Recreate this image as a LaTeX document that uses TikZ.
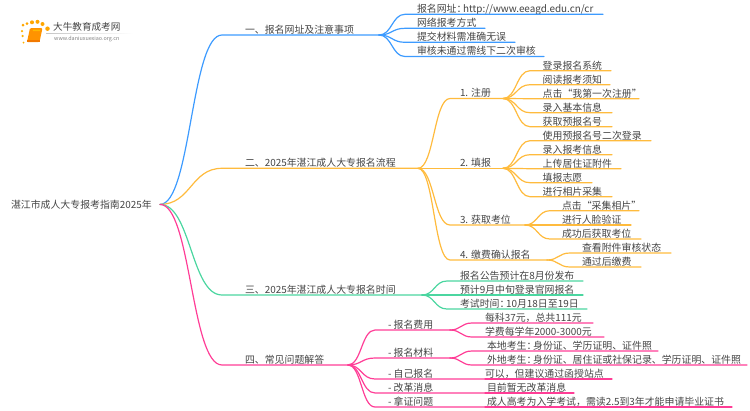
\documentclass[tikz,border=0pt]{standalone}
\usepackage{fontspec}
\setmainfont{Noto Sans CJK SC}
\definecolor{cblue}{HTML}{3D9BFF}
\definecolor{corange}{HTML}{FFBB3D}
\definecolor{cgreen}{HTML}{4BD6A0}
\definecolor{cpink}{HTML}{FF3D96}
\definecolor{ctext}{HTML}{444444}
\tikzset{
  mmtext/.style={inner sep=0pt,outer sep=0pt,text height=10pt,text depth=1.6pt,anchor=south west,text=ctext,font=\fontsize{9.9}{12}\selectfont},
  mmline/.style={line width=1.2pt,line cap=round},
  logodot/.style={fill=#1,draw=none,circle,inner sep=0pt,outer sep=0pt},
}
\newcommand{\mmcolon}{：\kern-3.4pt}
% name, x-start, x-text, x-end, y (of the line), text
\newcommand{\mmseg}[6]{\node[mmtext] (#1) at (#2,#5) {\makebox[\dimexpr #4pt-#2pt\relax][l]{\hspace{\dimexpr #3pt-#2pt\relax}#6}};}
% colour, from (anchor incl.), to, control offset
\newcommand{\mmconn}[4]{\draw[mmline,#1] (#2) .. controls +(#4,0) and +(-#4,0) .. (#3.south west) -- (#3.south east);}
\begin{document}
\begin{tikzpicture}[x=1pt,y=-1pt]
\useasboundingbox (0,0) rectangle (750,410);
% ---- logo
\node[logodot=orange!70!yellow,minimum size=3pt] (d1) at (23,25) {};
\node[logodot=orange!70!yellow,minimum size=3pt] (d2) at (27,23.5) {};
\node[logodot=orange!70!yellow,minimum size=4pt] (d3) at (32,22.3) {};
\node[logodot=orange!70!yellow,minimum size=4pt] (d4) at (37.5,21.8) {};
\node[logodot=orange!70!yellow,minimum size=4pt] (d5) at (42.5,24) {};
\node[logodot=orange!70!yellow,minimum size=4.5pt] (d6) at (47.5,28.7) {};
\node[logodot=orange!60!yellow,minimum size=2.5pt] (d7) at (22,31) {};
\node[logodot=orange!60!yellow,minimum size=2.5pt] (d8) at (22.7,36) {};
\node[logodot=orange!60!yellow,minimum size=2pt] (d9) at (23.5,42.5) {};
\fill[orange!85!yellow,rounded corners=1.2pt] (30,28) -- (42.5,28) -- (39.5,42) -- (27,42) -- cycle;
\fill[orange!55!yellow] (33,29.5) -- (40.5,29.5) -- (40,31) -- (32.7,31) -- cycle;
\fill[orange!95!black] (27,40) -- (39.5,40) -- (39.5,42) -- (27,42) -- cycle;
\shade[left color=gray!45,right color=white] (46,33) rectangle (133,33.6);
\node[inner sep=0pt,text=ctext,anchor=west,font=\fontsize{9.6}{11}\selectfont] (logot) at (53,27) {大牛教育成考网};
\node[inner sep=0pt,text=gray,anchor=west,font=\fontsize{5.4}{7}\selectfont] (logou) at (54,38.7) {www.daniuxuexiao.org.cn};
% ---- root
\node[inner sep=0pt,outer sep=0pt,anchor=west,text=ctext,font=\fontsize{9.9}{12}\selectfont] (root) at (11,204.4) {\makebox[149pt][l]{湛江市成人大专报考指南2025年}};
% ---- level 1
\mmseg{a}{222}{245}{379}{35}{一、报名网址及注意事项}
\mmseg{b}{222}{245}{418}{168.3}{二、2025年湛江成人大专报名流程}
\mmseg{c}{222}{245}{422}{295}{三、2025年湛江成人大专报名时间}
\mmseg{d}{222}{245}{348}{365}{四、常见问题解答}
% ---- section 1
\mmseg{a1}{405}{417}{603}{14.3}{报名网址\mmcolon http://www.eeagd.edu.cn/cr}
\mmseg{a2}{405}{417}{485}{28.3}{网络报考方式}
\mmseg{a3}{405}{417}{515}{42.3}{提交材料需准确无误}
\mmseg{a4}{405}{417}{544}{56.5}{审核未通过需线下二次审核}
% ---- section 2
\mmseg{b1}{450}{460}{503}{98.5}{1. 注册}
\mmseg{b2}{450}{460}{503}{168.3}{2. 填报}
\mmseg{b3}{450}{460}{525}{225}{3. 获取考位}
\mmseg{b4}{450}{460}{547}{260}{4. 缴费确认报名}
\mmseg{b11}{530}{542.7}{611}{70.7}{登录报名系统}
\mmseg{b12}{530}{542.7}{610}{84.7}{阅读报考须知}
\mmseg{b13}{530}{542.7}{639}{98.7}{点击“我第一次注册”}
\mmseg{b14}{530}{542.7}{612}{112.7}{录入基本信息}
\mmseg{b15}{530}{542.7}{612}{126.7}{获取预报名号}
\mmseg{b21}{530}{542.7}{651}{140.7}{使用预报名号二次登录}
\mmseg{b22}{530}{542.7}{612}{154.7}{录入报考信息}
\mmseg{b23}{530}{542.7}{621}{168.7}{上传居住证附件}
\mmseg{b24}{530}{542.7}{592}{182.7}{填报志愿}
\mmseg{b25}{530}{542.7}{612}{196.7}{进行相片采集}
\mmseg{b31}{550}{562}{639}{210.7}{点击“采集相片”}
\mmseg{b32}{550}{562}{631}{225}{进行人脸验证}
\mmseg{b33}{550}{562}{641}{239}{成功后获取考位}
\mmseg{b41}{570}{582}{671}{253}{查看附件审核状态}
\mmseg{b42}{570}{582}{641}{267}{通过后缴费}
% ---- section 3
\mmseg{c1}{447}{460}{583}{281}{报名公告预计在8月份发布}
\mmseg{c2}{447}{460}{583}{295}{预计9月中旬登录官网报名}
\mmseg{c3}{447}{460}{587}{309}{考试时间\mmcolon 10月18日至19日}
% ---- section 4
\mmseg{d1}{375}{388}{450}{330}{- 报名费用}
\mmseg{d2}{375}{388}{450}{358}{- 报名材料}
\mmseg{d3}{375}{388}{485}{379}{- 自己报名}
\mmseg{d4}{375}{388}{485}{393}{- 改革消息}
\mmseg{d5}{375}{388}{485}{407}{- 拿证问题}
\mmseg{d11}{472}{485}{593}{323}{每科37元，总共111元}
\mmseg{d12}{472}{485}{604}{337}{学费每学年2000-3000元}
\mmseg{d21}{472}{487}{658}{351}{本地考生\mmcolon 身份证、学历证明、证件照}
\mmseg{d22}{472}{487}{747}{365}{外地考生\mmcolon 身份证、居住证或社保记录、学历证明、证件照}
\mmseg{d31}{485}{485}{612}{379}{可以，但建议通过函授站点}
\mmseg{d41}{485}{487}{574}{393}{目前暂无改革消息}
\mmseg{d51}{485}{487}{732}{407}{成人高考为入学考试，需读2.5到3年才能申请毕业证书}
% ---- connectors
\mmconn{cblue}{root.east}{a}{31}
\mmconn{corange}{root.east}{b}{31}
\mmconn{cgreen}{root.east}{c}{31}
\mmconn{cpink}{root.east}{d}{31}
\foreach \k in {a1,a2,a3,a4}{\mmconn{cblue}{a.south east}{\k}{13}}
\foreach \k in {b1,b2,b3,b4}{\mmconn{corange}{b.south east}{\k}{16}}
\foreach \k in {b11,b12,b13,b14,b15}{\mmconn{corange}{b1.south east}{\k}{13.5}}
\foreach \k in {b21,b22,b23,b24,b25}{\mmconn{corange}{b2.south east}{\k}{13.5}}
\foreach \k in {b31,b32,b33}{\mmconn{corange}{b3.south east}{\k}{12.5}}
\foreach \k in {b41,b42}{\mmconn{corange}{b4.south east}{\k}{11.5}}
\foreach \k in {c1,c2,c3}{\mmconn{cgreen}{c.south east}{\k}{12.5}}
\foreach \k in {d1,d2,d3,d4,d5}{\mmconn{cpink}{d.south east}{\k}{13.5}}
\foreach \k in {d11,d12}{\mmconn{cpink}{d1.south east}{\k}{11}}
\foreach \k in {d21,d22}{\mmconn{cpink}{d2.south east}{\k}{11}}
\draw[mmline,cpink] (d3.south east) -- (d31.south west) -- (d31.south east);
\draw[mmline,cpink] (d4.south east) -- (d41.south west) -- (d41.south east);
\draw[mmline,cpink] (d5.south east) -- (d51.south west) -- (d51.south east);
\end{tikzpicture}
\end{document}
